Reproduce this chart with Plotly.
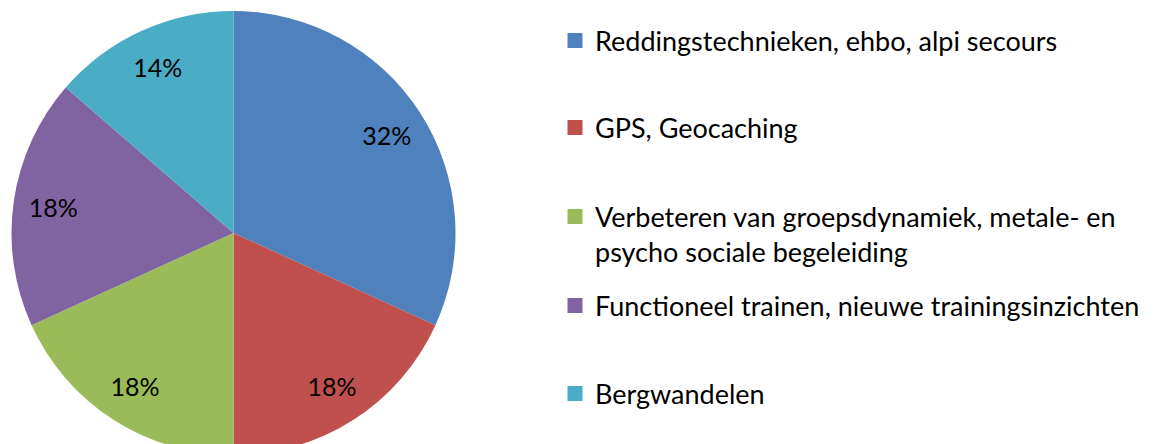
import plotly.graph_objects as go

# ---- data ----
categories = [
    "Reddingstechnieken, ehbo, alpi secours",
    "GPS, Geocaching",
    "Verbeteren van groepsdynamiek, metale- en psycho sociale begeleiding",
    "Functioneel trainen, nieuwe trainingsinzichten",
    "Bergwandelen",
]
legend_labels = [
    "Reddingstechnieken, ehbo, alpi secours",
    "GPS, Geocaching",
    "Verbeteren van groepsdynamiek, metale- en<br>psycho sociale begeleiding",
    "Functioneel trainen, nieuwe trainingsinzichten",
    "Bergwandelen",
]
counts = [7, 4, 4, 4, 3]
colors = ["#4F81BD", "#C0504D", "#9BBB59", "#8064A2", "#4BACC6"]

# ---- layout constants ----
W, H = 1156, 470
cx, cy, R = 233.5, 233, 222          # pie centre / radius in px (from top-left)
FONT = "Lato, 'Open Sans', sans-serif"
legend_y_px = [41, 128, 234.5, 306, 394]
legend_x_px = 555
domain = dict(x=[(cx - R) / W, (cx + R) / W],
              y=[(H - cy - R) / H, (H - cy + R) / H])

fig = go.Figure()
# coloured slices
fig.add_trace(go.Pie(
    labels=categories,
    values=counts,
    marker=dict(colors=colors, line=dict(width=0)),
    sort=False,
    direction="clockwise",
    rotation=0,
    textinfo="none",
    showlegend=False,
    domain=domain,
    hoverinfo="label+percent",
))
# transparent ring carrying the percentage labels (places them near the rim)
fig.add_trace(go.Pie(
    labels=categories,
    values=counts,
    hole=0.64,
    marker=dict(colors=["rgba(0,0,0,0)"] * len(counts), line=dict(width=0)),
    sort=False,
    direction="clockwise",
    rotation=0,
    texttemplate="%{percent:.0%}",
    textposition="inside",
    insidetextorientation="horizontal",
    textfont=dict(family=FONT, size=25, color="#000000"),
    showlegend=False,
    domain=domain,
    hoverinfo="skip",
))

layout_legends = {}
for i, (lab, col) in enumerate(zip(legend_labels, colors)):
    key = "legend" if i == 0 else f"legend{i+1}"
    fig.add_trace(go.Scatter(
        x=[None], y=[None], mode="markers",
        marker=dict(symbol="square", size=15, color=col),
        name=lab, legend=key, showlegend=True, hoverinfo="skip",
    ))
    layout_legends[key] = dict(
        x=legend_x_px / W, y=1 - legend_y_px[i] / H,
        xanchor="left", yanchor="middle",
        valign="top",
        font=dict(family=FONT, size=27, color="#000000"),
        bgcolor="rgba(0,0,0,0)", borderwidth=0,
        itemsizing="trace",
    )

fig.update_layout(
    width=W, height=H,
    margin=dict(l=0, r=0, t=0, b=0),
    paper_bgcolor="white", plot_bgcolor="white",
    xaxis=dict(visible=False), yaxis=dict(visible=False),
    **layout_legends,
)

fig.write_html("out.html",
               config={"displayModeBar": False},
               post_script="document.body.style.margin='0';document.body.style.overflow='hidden';")
